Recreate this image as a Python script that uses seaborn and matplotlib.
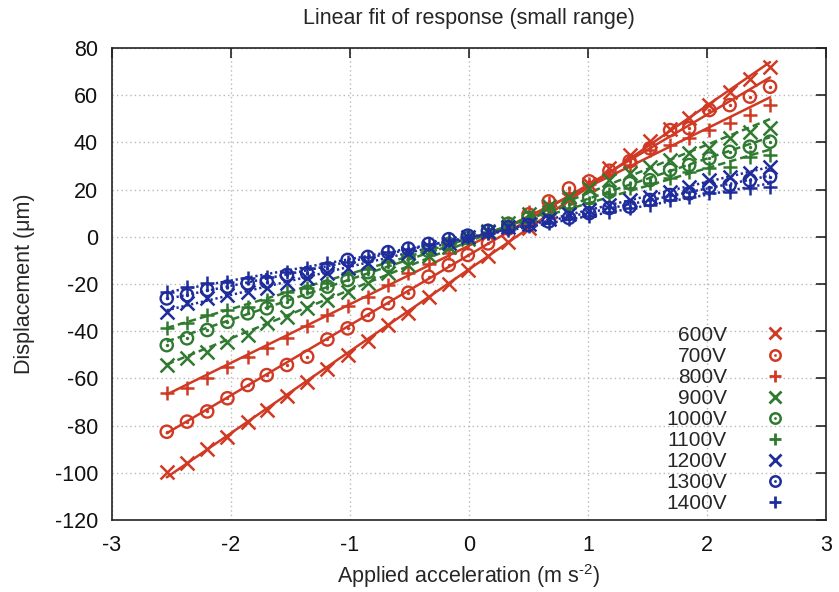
import numpy as np
import matplotlib
matplotlib.use("Agg")
import matplotlib.pyplot as plt
from matplotlib.lines import Line2D
import seaborn as sns

# Applied acceleration (m s^-2)
accel = [-2.54, -2.37, -2.20, -2.03, -1.86, -1.70, -1.53, -1.36, -1.19, -1.02,
         -0.85, -0.68, -0.51, -0.34, -0.17, -0.01, 0.16, 0.33, 0.50, 0.67,
         0.84, 1.01, 1.18, 1.35, 1.52, 1.69, 1.85, 2.02, 2.19, 2.36, 2.53]

# Measured displacement (um) for each bias voltage
disp_600 = [-99.5, -95.8, -90.0, -85.0, -78.5, -73.2, -67.6, -61.6, -55.8, -50.0,
            -44.3, -37.5, -32.2, -25.6, -19.8, -14.0, -8.2, -2.4, 3.6, 10.5,
            16.0, 22.5, 29.0, 34.5, 40.5, 45.5, 50.3, 55.8, 61.5, 67.0, 72.0]
disp_700 = [-82.6, -78.3, -74.0, -68.4, -62.8, -58.6, -54.3, -50.8, -43.5, -38.8,
            -33.1, -28.2, -23.7, -16.9, -12.0, -7.7, -2.8, 3.5, 9.5, 15.0,
            20.5, 23.5, 28.0, 32.0, 37.5, 45.2, 46.0, 53.7, 55.8, 59.4, 63.6]
disp_800 = [-66.3, -64.0, -60.0, -55.0, -50.8, -47.0, -42.8, -37.8, -33.2, -29.2,
            -25.4, -20.5, -15.5, -11.5, -7.0, -2.5, 1.5, 6.0, 10.5, 14.5,
            18.5, 22.5, 26.5, 30.5, 36.8, 38.9, 42.0, 45.2, 48.1, 51.6, 55.8]
disp_900 = [-54.3, -51.5, -49.0, -44.4, -41.6, -36.7, -33.8, -30.3, -26.8, -23.3,
            -19.5, -15.5, -11.8, -8.0, -4.5, -1.0, 2.5, 6.0, 9.5, 13.0,
            17.0, 20.5, 24.0, 27.0, 29.7, 32.5, 35.4, 37.5, 41.7, 44.5, 46.0]
disp_1000 = [-45.9, -43.0, -39.5, -36.0, -32.4, -30.3, -27.5, -23.3, -21.1, -18.3,
             -15.0, -12.0, -9.0, -6.0, -3.0, -0.5, 2.5, 5.5, 8.0, 11.0,
             14.0, 16.5, 19.1, 22.7, 24.0, 28.3, 30.4, 33.2, 36.0, 38.2, 40.3]
disp_1100 = [-38.8, -36.7, -33.1, -31.0, -29.6, -26.8, -23.3, -21.8, -19.7, -15.5,
             -13.5, -10.5, -8.0, -5.5, -2.5, 0.0, 2.0, 4.5, 7.0, 9.5,
             12.0, 14.5, 18.0, 20.5, 23.0, 25.0, 27.5, 29.0, 29.7, 34.0, 34.7]
disp_1200 = [-31.7, -28.2, -26.1, -24.7, -23.3, -21.8, -19.7, -17.6, -15.5, -13.4,
             -11.0, -8.5, -7.0, -4.5, -2.5, 0.0, 2.0, 4.0, 5.5, 7.5,
             9.5, 11.5, 13.5, 15.6, 17.0, 19.1, 21.2, 24.0, 25.5, 26.9, 29.7]
disp_1300 = [-26.1, -24.7, -22.5, -21.1, -19.7, -19.0, -16.2, -15.5, -13.4, -9.8,
             -8.5, -6.5, -5.0, -3.0, -1.0, 0.5, 2.5, 4.0, 5.0, 6.5,
             8.0, 10.0, 12.2, 12.8, 15.6, 17.7, 18.4, 21.2, 22.0, 24.0, 25.5]
disp_1400 = [-23.3, -21.1, -19.7, -19.0, -17.6, -16.9, -14.8, -13.4, -11.2, -10.5,
             -8.5, -6.5, -5.0, -3.0, -1.5, 0.0, 1.5, 3.0, 4.5, 6.0,
             7.5, 9.0, 10.6, 12.2, 13.5, 15.6, 17.0, 18.4, 19.1, 20.5, 21.2]

labels = ["600V", "700V", "800V", "900V", "1000V", "1100V", "1200V", "1300V", "1400V"]
series = [disp_600, disp_700, disp_800, disp_900, disp_1000,
          disp_1100, disp_1200, disp_1300, disp_1400]

x_ticks = [-3, -2, -1, 0, 1, 2, 3]
y_ticks = [-120, -100, -80, -60, -40, -20, 0, 20, 40, 60, 80]

RED, GREEN, BLUE = "#d03a24", "#2f7a30", "#1f2d9c"
group_colors = [RED, GREEN, BLUE]
group_styles = ["-", (0, (3.0, 1.6)), (0, (0.9, 1.1))]
marker_kinds = ["x", "odot", "+"]

sns.set_style("white")
plt.rcParams["font.family"] = ["Liberation Sans", "DejaVu Sans"]
plt.rcParams["mathtext.fontset"] = "custom"
plt.rcParams["mathtext.rm"] = "Liberation Sans"
plt.rcParams["axes.unicode_minus"] = False

FS = 15.5

fig = plt.figure(figsize=(8.39, 5.92), dpi=100)
ax = fig.add_axes([0.1335, 0.1216, 0.851, 0.7973])

x = np.asarray(accel)
handles = []
for i, (lab, y) in enumerate(zip(labels, series)):
    y = np.asarray(y)
    c = group_colors[i // 3]
    ls = group_styles[i // 3]
    kind = marker_kinds[i % 3]

    # least-squares linear fit of each voltage's response
    sns.regplot(x=x, y=y, scatter=False, ci=None, truncate=True, ax=ax,
                color=c, line_kws=dict(lw=1.8, ls=ls, zorder=2))

    if kind == "odot":
        ax.scatter(x, y, s=78, marker="o", facecolor="none", edgecolor=c,
                   linewidth=1.7, zorder=3)
        sns.scatterplot(x=x, y=y, s=6, marker="o", color=c, linewidth=0,
                        ax=ax, zorder=3)
        h = (Line2D([], [], ls="none", marker="o", ms=7.5, mfc="none", mec=c, mew=1.8),
             Line2D([], [], ls="none", marker="o", ms=2.0, mfc=c, mec=c, mew=0))
    else:
        sns.scatterplot(x=x, y=y, s=100 if kind == "x" else 115, marker=kind,
                        color=c, linewidth=1.8, ax=ax, zorder=3)
        h = Line2D([], [], ls="none", marker=kind, ms=8 if kind == "x" else 9,
                   mec=c, mew=2.0)
    handles.append(h)

ax.set_xlim(-3, 3)
ax.set_ylim(-120, 80)
ax.set_xticks(x_ticks)
ax.set_yticks(y_ticks)
ax.set_xticklabels([str(t) for t in x_ticks])
ax.set_yticklabels([str(t) for t in y_ticks])
ax.tick_params(direction="in", length=7, width=1.1, top=True, right=True,
               labelsize=FS, colors="#111111")
ax.tick_params(axis="x", pad=11)
ax.tick_params(axis="y", pad=10)
ax.grid(True, color="#b8b8b8", lw=1.0, ls=(0, (1, 2.2)))
for sp in ax.spines.values():
    sp.set_color("#222222")
    sp.set_linewidth(1.2)

ax.set_title("Linear fit of response (small range)", fontsize=FS, pad=17)
ax.set_xlabel("Applied acceleration (m s$^{\\text{-2}}$)", fontsize=FS, labelpad=4)
ax.set_ylabel("Displacement (\u03bcm)", fontsize=FS, labelpad=14)

ax.legend(handles, labels, loc="lower right", bbox_to_anchor=(0.95, 0.014),
          frameon=False, markerfirst=False, fontsize=15, labelspacing=0.1,
          handlelength=1.5, handletextpad=1.55, borderpad=0, borderaxespad=0)

fig.savefig("out.png", dpi=100)
